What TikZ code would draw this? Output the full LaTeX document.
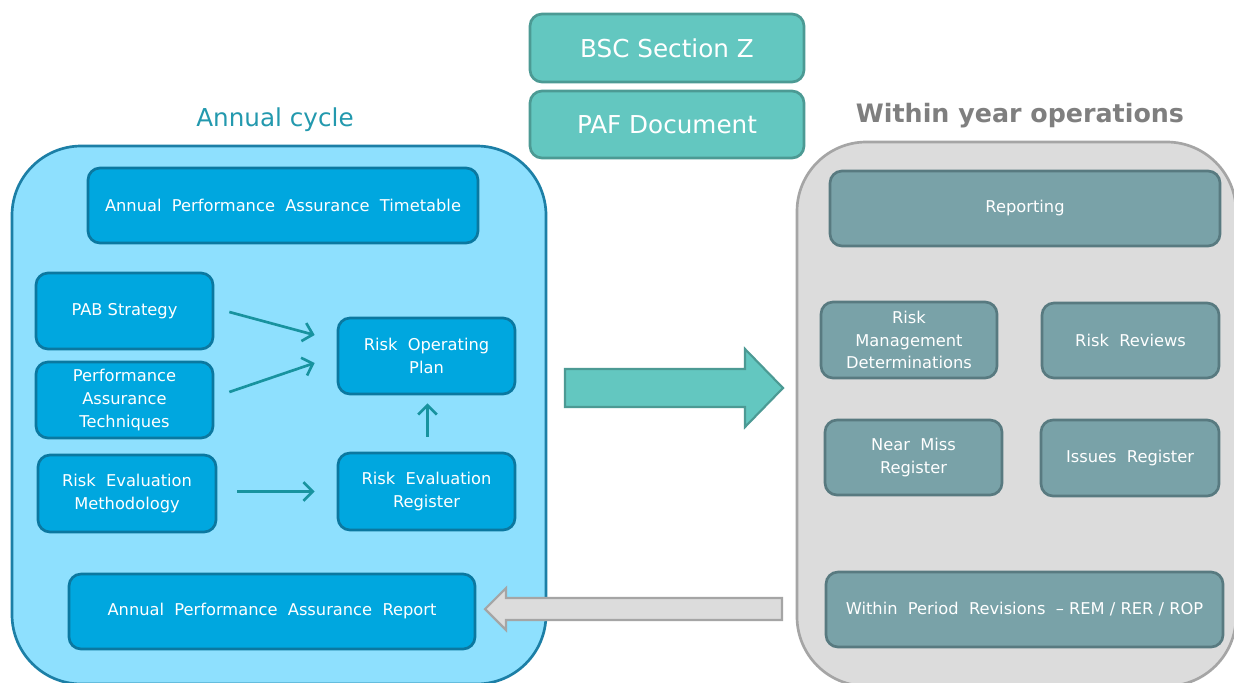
\documentclass[tikz,border=0pt]{standalone}
\usepackage{fontspec}
\setmainfont{DejaVu Sans}
\usetikzlibrary{arrows.meta,calc}
\definecolor{panelblue}{HTML}{8EE0FE}
\definecolor{panelblueb}{HTML}{1C7FA6}
\definecolor{boxblue}{HTML}{00A7DF}
\definecolor{boxblueb}{HTML}{0B78A0}
\definecolor{flowc}{HTML}{18939F}
\definecolor{tealf}{HTML}{63C7C0}
\definecolor{tealb}{HTML}{4C9A94}
\definecolor{greyf}{HTML}{DCDCDC}
\definecolor{greyb}{HTML}{A5A5A5}
\definecolor{slatef}{HTML}{79A2A8}
\definecolor{slateb}{HTML}{587A80}
\definecolor{titleblue}{HTML}{2399AE}
\definecolor{titlegrey}{HTML}{7F7F7F}
% style, name, x1, y1, x2, y2, text
\newcommand{\boxat}[7]{\node[#1, minimum width={(#5-#3)*0.75pt}, minimum height={(#6-#4)*0.75pt}]
  (#2) at ({(#3+#5)/2},{(#4+#6)/2}) {#7};}
\begin{document}
\begin{tikzpicture}[x=0.75pt,y=-0.75pt,
  panel/.style={rounded corners=52pt, line width=2pt, inner sep=0pt},
  bbox/.style={rounded corners=9pt, line width=2pt, inner sep=0pt, text=white, align=center,
     font=\fontsize{12.2}{17}\selectfont},
  bluebox/.style={bbox, fill=boxblue, draw=boxblueb},
  slatebox/.style={bbox, fill=slatef, draw=slateb},
  tealbox/.style={bbox, fill=tealf, draw=tealb, font=\fontsize{18.5}{22}\selectfont},
  flow/.style={draw=flowc, line width=2pt, -{Straight Barb[length=7pt,width=14pt]}},
  bigteal/.style={fill=tealf, draw=tealb, line width=1.6pt, line join=miter},
  biggrey/.style={fill=greyf, draw=greyb, line width=1.6pt, line join=miter}]
\useasboundingbox (0,0) rectangle (1234,682);
\fill[white] (0,0) rectangle (1234,682);

% panels
\boxat{panel, fill=panelblue, draw=panelblueb}{annual}{12}{146}{546}{684}{}
\boxat{panel, fill=greyf, draw=greyb}{within}{797}{142}{1236}{686}{}

% titles
\node[text=titleblue, font=\fontsize{18.5}{22}\selectfont] (tannual) at (275,120) {Annual cycle};
\node[text=titlegrey, font=\fontsize{19}{22}\selectfont\bfseries] (twithin) at (1020,116) {Within year operations};

% top centre
\boxat{tealbox}{bsc}{530}{14}{804}{82}{BSC Section Z}
\boxat{tealbox}{paf}{530}{91}{804}{158}{PAF Document}

% left boxes
\boxat{bluebox}{apt}{88}{168}{478}{243}{Annual\ \ Performance\ \ Assurance\ \ Timetable}
\boxat{bluebox}{pab}{36}{273}{213}{349}{PAB Strategy}
\boxat{bluebox}{pat}{36}{362}{213}{438}{Performance\\Assurance\\Techniques}
\boxat{bluebox}{rem}{38}{455}{216}{532}{Risk\ \ Evaluation\\Methodology}
\boxat{bluebox}{rop}{338}{318}{515}{394}{Risk\ \ Operating\\Plan}
\boxat{bluebox}{rer}{338}{453}{515}{530}{Risk\ \ Evaluation\\Register}
\boxat{bluebox}{apar}{69}{574}{475}{649}{Annual\ \ Performance\ \ Assurance\ \ Report}

% right boxes
\boxat{slatebox}{rep}{830}{171}{1220}{246}{Reporting}
\boxat{slatebox}{rmd}{821}{302}{997}{378}{Risk\\Management\\Determinations}
\boxat{slatebox}{rr}{1042}{303}{1219}{378}{Risk\ \ Reviews}
\boxat{slatebox}{nm}{825}{420}{1002}{495}{Near\ \ Miss\\Register}
\boxat{slatebox}{ir}{1041}{420}{1219}{496}{Issues\ \ Register}
\boxat{slatebox}{wpr}{826}{572}{1223}{647}{Within\ \ Period\ \ Revisions\ \ -- REM\ /\ RER\ /\ ROP}

% small arrows
\draw[flow] ($(pab.east)+(15,1)$) -- ($(rop.west)+(-22,-21)$);
\draw[flow] ($(pat.east)+(15,-8)$) -- ($(rop.west)+(-22,7)$);
\draw[flow] ($(rem.east)+(20,-2)$) -- ($(rem.east -| rer.west)+(-22,-2)$);
\draw[flow] ($(rer.north)+(1,-15)$) -- ($(rop.south)+(1,8)$);

% big arrows
\draw[bigteal] (565,369) -- (745,369) -- (745,349) -- (783,388) -- (745,427) -- (745,407) -- (565,407) -- cycle;
\draw[biggrey] (782,598) -- (506,598) -- (506,588) -- (485,609) -- (506,630) -- (506,620) -- (782,620) -- cycle;
\end{tikzpicture}
\end{document}
